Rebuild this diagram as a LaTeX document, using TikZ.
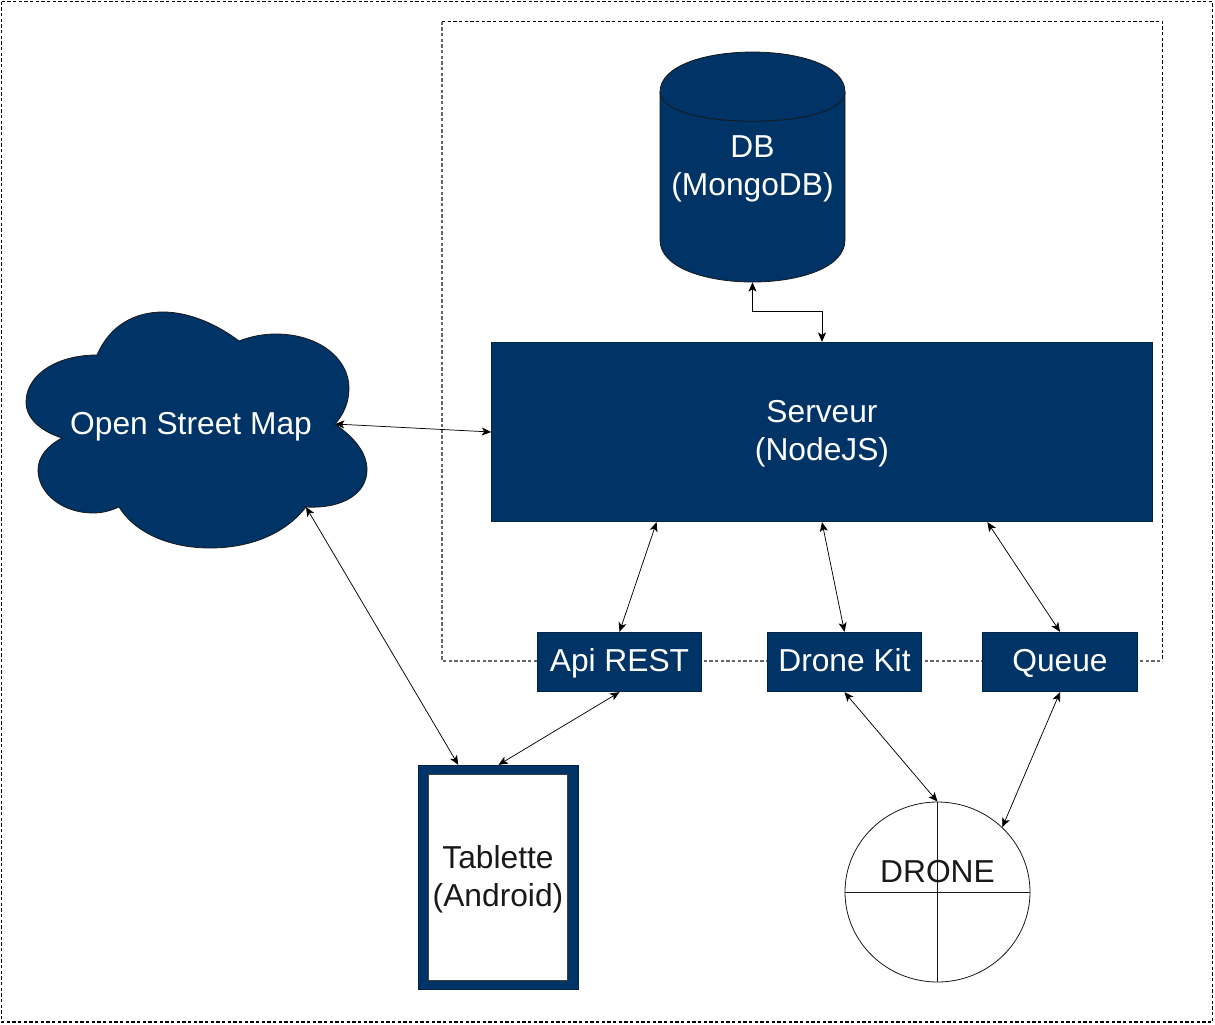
\documentclass[tikz,border=0pt]{standalone}
\usepackage{fontspec}
\setmainfont{Liberation Sans}
\usetikzlibrary{arrows.meta,calc,shapes.geometric}
\definecolor{navy}{HTML}{003366}
\tikzset{
  box/.style={draw=navy!70!black,line width=0.75pt,fill=navy,text=white,font=\lbl,align=center,inner sep=0pt,text height=17pt,text depth=2.8pt},
  ghost/.style={inner sep=0pt,font=\lbl,align=center},
  frameout/.style={draw=black,line width=0.85pt,dash pattern=on 2.5pt off 1.75pt},
  frameblack/.style={draw=black,line width=0.85pt,dash pattern=on 2.5pt off 1.75pt},
  framegrey/.style={draw=black!60,line width=1pt,dash pattern=on 2.5pt off 1.75pt},
  link/.style={draw=black,line width=0.55pt,{Stealth[length=7pt,width=6pt,inset=1.8pt]}-{Stealth[length=7pt,width=6pt,inset=1.8pt]}},
  shapeline/.style={draw=black!90,line width=0.6pt}
}
\newcommand{\lbl}{\fontsize{23.8}{28.5}\selectfont}
\begin{document}
\begin{tikzpicture}[x=0.75pt,y=-0.75pt]
\useasboundingbox (0,0) rectangle (1215,1025);
\fill[white] (0,0) rectangle (1215,1025);
% frames
\draw[frameout] (1.5,1.5) rectangle (1212.5,1022);
\draw[frameblack] (442,21.5) -- (1162.5,21.5) -- (1162.5,661);
\draw[framegrey] (442,21.5) -- (442,661) -- (1162.5,661);
% cloud
\path[fill=navy,shapeline] (97,355)
  .. controls (110,325) and (135,312) .. (163,312)
  .. controls (190,312) and (218,325) .. (239,341)
  .. controls (252,336) and (264,334) .. (276,334)
  .. controls (318,334) and (349,358) .. (349,388)
  .. controls (349,402) and (344,414) .. (335,424)
  .. controls (355,438) and (367,453) .. (367,470)
  .. controls (367,492) and (345,509) .. (306,507)
  .. controls (285,534) and (250,548) .. (210,548)
  .. controls (170,548) and (135,533) .. (119,507)
  .. controls (110,511) and (102,513) .. (93,513)
  .. controls (62,513) and (38,493) .. (38,470)
  .. controls (38,457) and (47,446) .. (62,438)
  .. controls (40,431) and (26,418) .. (26,402)
  .. controls (26,376) and (55,355) .. (97,355) -- cycle;
\node[ghost,text=white] (osm) at (191,427) {Open Street Map};
\coordinate (osmE) at (335,424);
\coordinate (osmS) at (306,507);
% database
\path[fill=navy,shapeline] (660,92)
  .. controls (660,38.7) and (845,38.7) .. (845,92) -- (845,240)
  .. controls (845,296) and (660,296) .. (660,240) -- cycle;
\draw[shapeline] (660,92) .. controls (660,131) and (845,131) .. (845,92);
\node[ghost,minimum width=138.75pt,minimum height=172.5pt] (db) at (752.5,167) {};
\node[ghost,text=white] (dblbl) at (752.5,169) {DB\\(MongoDB)};
% boxes
\node[box,minimum width=495.5pt,minimum height=134.5pt] (srv) at (822,432) {};
\node[ghost,text=white] (srvlbl) at (822,434) {Serveur\\(NodeJS)};
\node[box,minimum width=123.25pt,minimum height=44.5pt] (api) at (619.5,662) {Api REST};
\node[box,minimum width=115.75pt,minimum height=44.5pt] (kit) at (844.5,662) {Drone Kit};
\node[box,minimum width=116.5pt,minimum height=44.5pt] (queue) at (1060,662) {Queue};
% tablet
\node[draw=navy!70!black,fill=navy,line width=0.75pt,minimum width=120pt,minimum height=168.25pt,inner sep=0pt] (tab) at (498.5,877.5) {};
\node[draw=black!75,fill=white,line width=0.75pt,minimum width=104.5pt,minimum height=155pt,inner sep=0pt] (tabin) at (498,877.5) {};
\node[ghost,text=black!90] (tablbl) at (498,879) {Tablette\\(Android)};
% drone
\node[ellipse,shapeline,fill=white,minimum width=138.75pt,minimum height=135pt,inner sep=0pt] (drone) at (937.5,892) {};
\draw[shapeline] (drone.north) -- (drone.south);
\draw[shapeline] (drone.west) -- (drone.east);
\node[ghost,text=black!90] (dronelbl) at (937.5,872) {DRONE};
% connectors
\draw[link] (db.south) -- ($(db.south)+(0,29)$) -| (srv.north);
\draw[link] (osmE) -- (srv.west);
\draw[link] (osmS) -- ($(tab.north west)!0.25!(tab.north east)$);
\draw[link] ($(srv.south west)!0.25!(srv.south east)$) -- (api.north);
\draw[link] (srv.south) -- (kit.north);
\draw[link] ($(srv.south west)!0.75!(srv.south east)$) -- (queue.north);
\draw[link] (api.south) -- (tab.north);
\draw[link] (kit.south) -- (drone.north);
\draw[link] (queue.south) -- (drone.45);
\end{tikzpicture}
\end{document}
